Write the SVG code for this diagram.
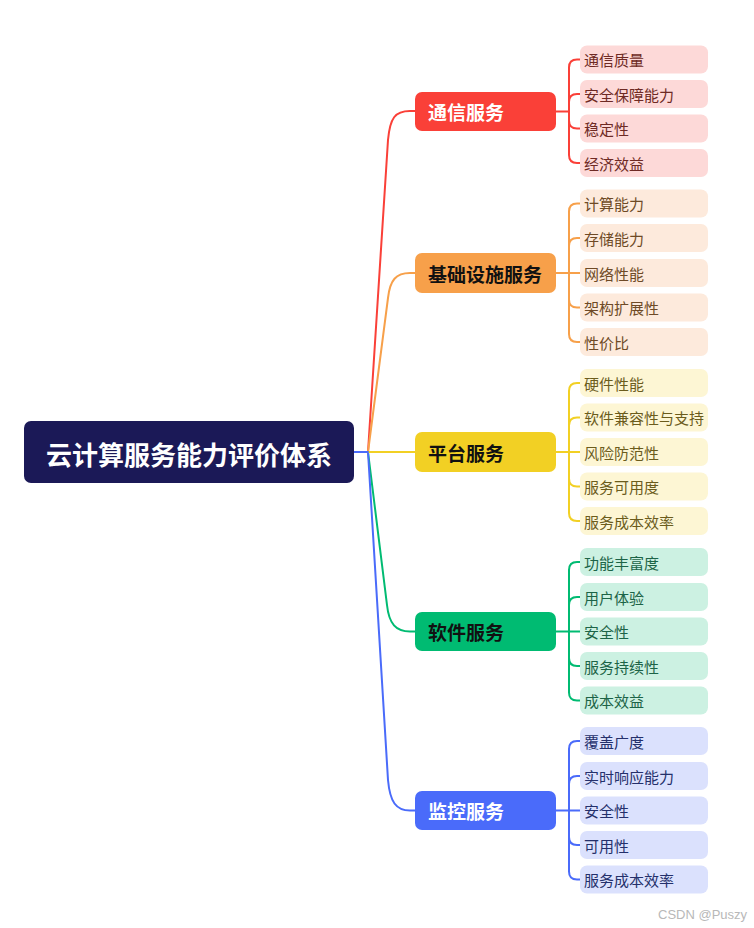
<svg xmlns="http://www.w3.org/2000/svg" width="754" height="928" viewBox="0 0 754 928">
<style>
text{font-family:"Noto Sans CJK SC","Noto Sans",sans-serif;dominant-baseline:central}
.root{font-size:26px;font-weight:bold;fill:#fff}
.br{font-size:19px;font-weight:bold}
.lf{font-size:15px}
.ln{fill:none;stroke-width:2;stroke-linecap:round}
</style>
<rect width="754" height="928" fill="#fff"/>
<g id="connectors">
<path class="ln" stroke="#fa4038" d="M368,452 L388,140 C390,118 395,111 410,111 L415,111"/>
<path class="ln" stroke="#f7a04a" d="M368,452 L388,298 C390,280 396,273 410,273 L415,273"/>
<path class="ln" stroke="#00bb72" d="M368,452 L387,605 C389,624 396,631.5 410,631.5 L415,631.5"/>
<path class="ln" stroke="#4a6bfa" d="M368,452 L388,780 C390,802 396,810.5 410,810.5 L415,810.5"/>
<path class="ln" stroke="#f2d024" d="M368,452 H415"/>
<path class="ln" stroke="#4a6bfa" d="M354,452 H368"/>
<!-- group 1 -->
<path class="ln" stroke="#fa4038" d="M556,111.5 H569 M580,59.5 H577 Q569,59.5 569,67.5 V155 Q569,163 577,163 H580 M569,102 Q569,94 577,94 H580 M569,120.5 Q569,128.5 577,128.5 H580"/>
<!-- group 2 -->
<path class="ln" stroke="#f7a04a" d="M556,273 H580 M580,203.5 H577 Q569,203.5 569,211.5 V334 Q569,342 577,342 H580 M569,246 Q569,238 577,238 H580 M569,299.5 Q569,307.5 577,307.5 H580"/>
<!-- group 3 -->
<path class="ln" stroke="#f2d024" d="M556,452 H580 M580,383 H577 Q569,383 569,391 V513 Q569,521 577,521 H580 M569,425.5 Q569,417.5 577,417.5 H580 M569,478.5 Q569,486.5 577,486.5 H580"/>
<!-- group 4 -->
<path class="ln" stroke="#00bb72" d="M556,631.5 H580 M580,562 H577 Q569,562 569,570 V692.5 Q569,700.5 577,700.5 H580 M569,605 Q569,597 577,597 H580 M569,658 Q569,666 577,666 H580"/>
<!-- group 5 -->
<path class="ln" stroke="#4a6bfa" d="M556,810.5 H580 M580,741 H577 Q569,741 569,749 V871.5 Q569,879.5 577,879.5 H580 M569,784 Q569,776 577,776 H580 M569,837 Q569,845 577,845 H580"/>
</g>
<g id="root">
<rect x="24" y="421" width="330" height="62" rx="7" fill="#1b1957"/>
<text class="root" x="189" y="453" text-anchor="middle">云计算服务能力评价体系</text>
</g>
<g id="b1"><rect x="415" y="92" width="141" height="39" rx="7" fill="#fa4038"/><text class="br" x="428" y="111.5" fill="#fff">通信服务</text></g>
<g id="b2"><rect x="415" y="253" width="141" height="40" rx="7" fill="#f7a04a"/><text class="br" x="428" y="273" fill="#111">基础设施服务</text></g>
<g id="b3"><rect x="415" y="432" width="141" height="40" rx="7" fill="#f2d024"/><text class="br" x="428" y="452" fill="#111">平台服务</text></g>
<g id="b4"><rect x="415" y="612" width="141" height="39" rx="7" fill="#00bb72"/><text class="br" x="428" y="631.5" fill="#111">软件服务</text></g>
<g id="b5"><rect x="415" y="791" width="141" height="39" rx="7" fill="#4a6bfa"/><text class="br" x="428" y="810.5" fill="#fff">监控服务</text></g>
<g id="l1-1"><rect x="580" y="45.5" width="128" height="28" rx="7" fill="#fdd9d8"/><text class="lf" x="584" y="59.5" fill="#6e2a24">通信质量</text></g>
<g id="l1-2"><rect x="580" y="80" width="128" height="28" rx="7" fill="#fdd9d8"/><text class="lf" x="584" y="94" fill="#6e2a24">安全保障能力</text></g>
<g id="l1-3"><rect x="580" y="114.5" width="128" height="28" rx="7" fill="#fdd9d8"/><text class="lf" x="584" y="128.5" fill="#6e2a24">稳定性</text></g>
<g id="l1-4"><rect x="580" y="149" width="128" height="28" rx="7" fill="#fdd9d8"/><text class="lf" x="584" y="163" fill="#6e2a24">经济效益</text></g>
<g id="l2-1"><rect x="580" y="189.5" width="128" height="28" rx="7" fill="#fdeadc"/><text class="lf" x="584" y="203.5" fill="#6e4a26">计算能力</text></g>
<g id="l2-2"><rect x="580" y="224" width="128" height="28" rx="7" fill="#fdeadc"/><text class="lf" x="584" y="238" fill="#6e4a26">存储能力</text></g>
<g id="l2-3"><rect x="580" y="259" width="128" height="28" rx="7" fill="#fdeadc"/><text class="lf" x="584" y="273" fill="#6e4a26">网络性能</text></g>
<g id="l2-4"><rect x="580" y="293.5" width="128" height="28" rx="7" fill="#fdeadc"/><text class="lf" x="584" y="307.5" fill="#6e4a26">架构扩展性</text></g>
<g id="l2-5"><rect x="580" y="328" width="128" height="28" rx="7" fill="#fdeadc"/><text class="lf" x="584" y="342" fill="#6e4a26">性价比</text></g>
<g id="l3-1"><rect x="580" y="369" width="128" height="28" rx="7" fill="#fdf6d4"/><text class="lf" x="584" y="383" fill="#6b5c1c">硬件性能</text></g>
<g id="l3-2"><rect x="580" y="403.5" width="128" height="28" rx="7" fill="#fdf6d4"/><text class="lf" x="584" y="417.5" fill="#6b5c1c">软件兼容性与支持</text></g>
<g id="l3-3"><rect x="580" y="438" width="128" height="28" rx="7" fill="#fdf6d4"/><text class="lf" x="584" y="452" fill="#6b5c1c">风险防范性</text></g>
<g id="l3-4"><rect x="580" y="472.5" width="128" height="28" rx="7" fill="#fdf6d4"/><text class="lf" x="584" y="486.5" fill="#6b5c1c">服务可用度</text></g>
<g id="l3-5"><rect x="580" y="507" width="128" height="28" rx="7" fill="#fdf6d4"/><text class="lf" x="584" y="521" fill="#6b5c1c">服务成本效率</text></g>
<g id="l4-1"><rect x="580" y="548" width="128" height="28" rx="7" fill="#ccf1e2"/><text class="lf" x="584" y="562" fill="#1c6447">功能丰富度</text></g>
<g id="l4-2"><rect x="580" y="583" width="128" height="28" rx="7" fill="#ccf1e2"/><text class="lf" x="584" y="597" fill="#1c6447">用户体验</text></g>
<g id="l4-3"><rect x="580" y="617.5" width="128" height="28" rx="7" fill="#ccf1e2"/><text class="lf" x="584" y="631.5" fill="#1c6447">安全性</text></g>
<g id="l4-4"><rect x="580" y="652" width="128" height="28" rx="7" fill="#ccf1e2"/><text class="lf" x="584" y="666" fill="#1c6447">服务持续性</text></g>
<g id="l4-5"><rect x="580" y="686.5" width="128" height="28" rx="7" fill="#ccf1e2"/><text class="lf" x="584" y="700.5" fill="#1c6447">成本效益</text></g>
<g id="l5-1"><rect x="580" y="727" width="128" height="28" rx="7" fill="#dbe1fd"/><text class="lf" x="584" y="741" fill="#24306b">覆盖广度</text></g>
<g id="l5-2"><rect x="580" y="762" width="128" height="28" rx="7" fill="#dbe1fd"/><text class="lf" x="584" y="776" fill="#24306b">实时响应能力</text></g>
<g id="l5-3"><rect x="580" y="796.5" width="128" height="28" rx="7" fill="#dbe1fd"/><text class="lf" x="584" y="810.5" fill="#24306b">安全性</text></g>
<g id="l5-4"><rect x="580" y="831" width="128" height="28" rx="7" fill="#dbe1fd"/><text class="lf" x="584" y="845" fill="#24306b">可用性</text></g>
<g id="l5-5"><rect x="580" y="865.5" width="128" height="28" rx="7" fill="#dbe1fd"/><text class="lf" x="584" y="879.5" fill="#24306b">服务成本效率</text></g>
<text x="658" y="914" style="font-family:'Liberation Sans',Arial,sans-serif;font-size:13px;fill:#b8b8b8">CSDN @Puszy</text>
</svg>
